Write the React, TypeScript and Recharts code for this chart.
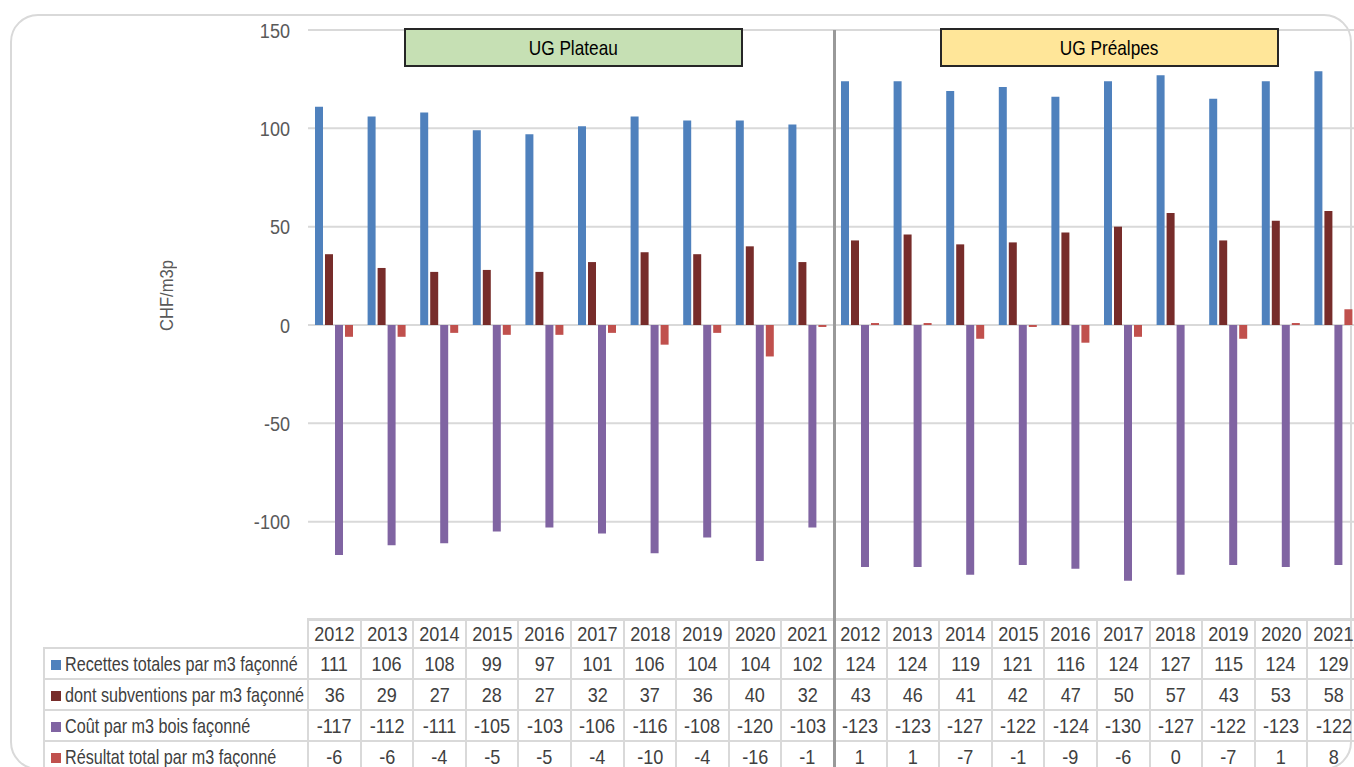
import React from 'react';
import { BarChart, Bar, XAxis, YAxis, CartesianGrid } from 'recharts';

const groups = ['UG Plateau', 'UG Préalpes'];
const years = ['2012', '2013', '2014', '2015', '2016', '2017', '2018', '2019', '2020', '2021'];

// first 10 = UG Plateau, last 10 = UG Préalpes
const recettes = [111, 106, 108, 99, 97, 101, 106, 104, 104, 102, 124, 124, 119, 121, 116, 124, 127, 115, 124, 129];
const subventions = [36, 29, 27, 28, 27, 32, 37, 36, 40, 32, 43, 46, 41, 42, 47, 50, 57, 43, 53, 58];
const cout = [-117, -112, -111, -105, -103, -106, -116, -108, -120, -103, -123, -123, -127, -122, -124, -130, -127, -122, -123, -122];
const resultat = [-6, -6, -4, -5, -5, -4, -10, -4, -16, -1, 1, 1, -7, -1, -9, -6, 0, -7, 1, 8];

const yTicks = [-150, -100, -50, 0, 50, 100, 150];

const series = [
  { key: 'recettes', name: 'Recettes totales par m3 façonné', color: '#4F81BD', values: recettes },
  { key: 'subventions', name: 'dont subventions par m3 façonné', color: '#772C2A', values: subventions },
  { key: 'cout', name: 'Coût par m3 bois façonné', color: '#8064A2', values: cout },
  { key: 'resultat', name: 'Résultat total par m3 façonné', color: '#C0504D', values: resultat },
];

const data = groups.flatMap((g, gi) =>
  years.map((y, yi) => {
    const i = gi * years.length + yi;
    const row: any = { id: g + ' ' + y, year: y };
    series.forEach((s) => (row[s.key] = s.values[i]));
    return row;
  })
);

// no narrow font installed: squeeze Liberation Sans horizontally instead
const FONT = "'Liberation Sans', Arial, sans-serif";
const NUM_SCALE = 0.86;
const TXT_SCALE = 0.77;
const PLOT_LEFT = 308;
const PLOT_TOP = 30;
const PLOT_H = 590;
const COL_W = 52.6;
const CHART_W = PLOT_LEFT + COL_W * data.length;
const LEGEND_W = 264;
const GRID = '#D9D9D9';

const Squeeze = ({ k, origin = 'center', children }: any) => (
  <span style={{ display: 'inline-block', transform: `scaleX(${k})`, transformOrigin: origin, whiteSpace: 'nowrap' }}>
    {children}
  </span>
);

const YTick = ({ x, y, payload }: any) => (
  <text
    transform={`translate(${x},${y}) scale(${NUM_SCALE},1)`}
    textAnchor="end"
    dy="0.36em"
    fill="#595959"
    fontSize={21}
    fontFamily={FONT}
  >
    {payload.value}
  </text>
);

const cell: React.CSSProperties = {
  border: '2px solid ' + GRID,
  textAlign: 'center',
  padding: 0,
  fontSize: 21,
  lineHeight: '24px',
  color: '#404040',
  whiteSpace: 'nowrap',
  overflow: 'hidden',
};

const GroupBox = ({ label, left, bg }: { label: string; left: number; bg: string }) => (
  <div
    style={{
      position: 'absolute',
      left,
      top: 28,
      width: 339,
      height: 39,
      boxSizing: 'border-box',
      border: '2px solid #262626',
      background: bg,
      display: 'flex',
      alignItems: 'center',
      justifyContent: 'center',
      fontSize: 21,
      color: '#000',
      fontFamily: FONT,
    }}
  >
    <Squeeze k={0.82}>{label}</Squeeze>
  </div>
);

export default function App() {
  return (
    <div
      style={{
        position: 'absolute',
        left: 0,
        top: 0,
        width: 1354,
        height: 767,
        overflow: 'hidden',
        background: '#fff',
        fontFamily: FONT,
      }}
    >
      <div
        style={{
          position: 'absolute',
          left: 10,
          top: 14,
          width: 1342,
          height: 756,
          boxSizing: 'border-box',
          border: '2px solid ' + GRID,
          borderRadius: 28,
        }}
      />
      <div style={{ position: 'absolute', left: 0, top: 0 }}>
        <BarChart
          width={CHART_W}
          height={PLOT_TOP + PLOT_H + 2}
          data={data}
          margin={{ top: PLOT_TOP, right: 0, left: 0, bottom: 2 }}
          barSize={8}
          barGap={2}
        >
          <CartesianGrid vertical={false} stroke={GRID} strokeWidth={2} />
          <XAxis dataKey="id" hide />
          <YAxis
            width={PLOT_LEFT}
            domain={[-150, 150]}
            ticks={yTicks}
            axisLine={false}
            tickLine={false}
            tickMargin={12}
            tick={<YTick />}
          />
          {series.map((s) => (
            <Bar key={s.key} dataKey={s.key} name={s.name} fill={s.color} isAnimationActive={false} />
          ))}
        </BarChart>
      </div>

      <div
        style={{
          position: 'absolute',
          left: 127,
          top: 284,
          width: 80,
          height: 22,
          transform: 'rotate(-90deg)',
          transformOrigin: 'center',
          display: 'flex',
          alignItems: 'center',
          justifyContent: 'center',
          whiteSpace: 'nowrap',
          fontSize: 18,
          color: '#595959',
        }}
      >
        <Squeeze k={0.92}>CHF/m3p</Squeeze>
      </div>

      <GroupBox label={groups[0]} left={404} bg="#C6E0B4" />
      <GroupBox label={groups[1]} left={940} bg="#FFE699" />

      <table
        style={{
          position: 'absolute',
          left: PLOT_LEFT - LEGEND_W - 1,
          top: 618,
          borderCollapse: 'collapse',
          tableLayout: 'fixed',
          width: LEGEND_W + COL_W * data.length,
          fontFamily: FONT,
        }}
      >
        <colgroup>
          <col style={{ width: LEGEND_W }} />
          {data.map((d) => (
            <col key={d.id} style={{ width: COL_W }} />
          ))}
        </colgroup>
        <tbody>
          <tr style={{ height: 29 }}>
            <td style={{ border: 'none', padding: 0 }} />
            {data.map((d) => (
              <td key={d.id} style={cell}>
                <Squeeze k={NUM_SCALE}>{d.year}</Squeeze>
              </td>
            ))}
          </tr>
          {series.map((s) => (
            <tr key={s.key} style={{ height: 31 }}>
              <td style={{ ...cell, textAlign: 'left', paddingLeft: 6 }}>
                <span
                  style={{
                    display: 'inline-block',
                    width: 10,
                    height: 10,
                    background: s.color,
                    marginRight: 4,
                    verticalAlign: 'middle',
                  }}
                />
                <Squeeze k={TXT_SCALE} origin="left">
                  {s.name}
                </Squeeze>
              </td>
              {data.map((d) => (
                <td key={d.id} style={cell}>
                  <Squeeze k={NUM_SCALE}>{d[s.key]}</Squeeze>
                </td>
              ))}
            </tr>
          ))}
        </tbody>
      </table>

      <div
        style={{
          position: 'absolute',
          left: PLOT_LEFT + COL_W * years.length - 1.5,
          top: PLOT_TOP,
          width: 3,
          height: 767 - PLOT_TOP,
          background: '#999',
        }}
      />
    </div>
  );
}
